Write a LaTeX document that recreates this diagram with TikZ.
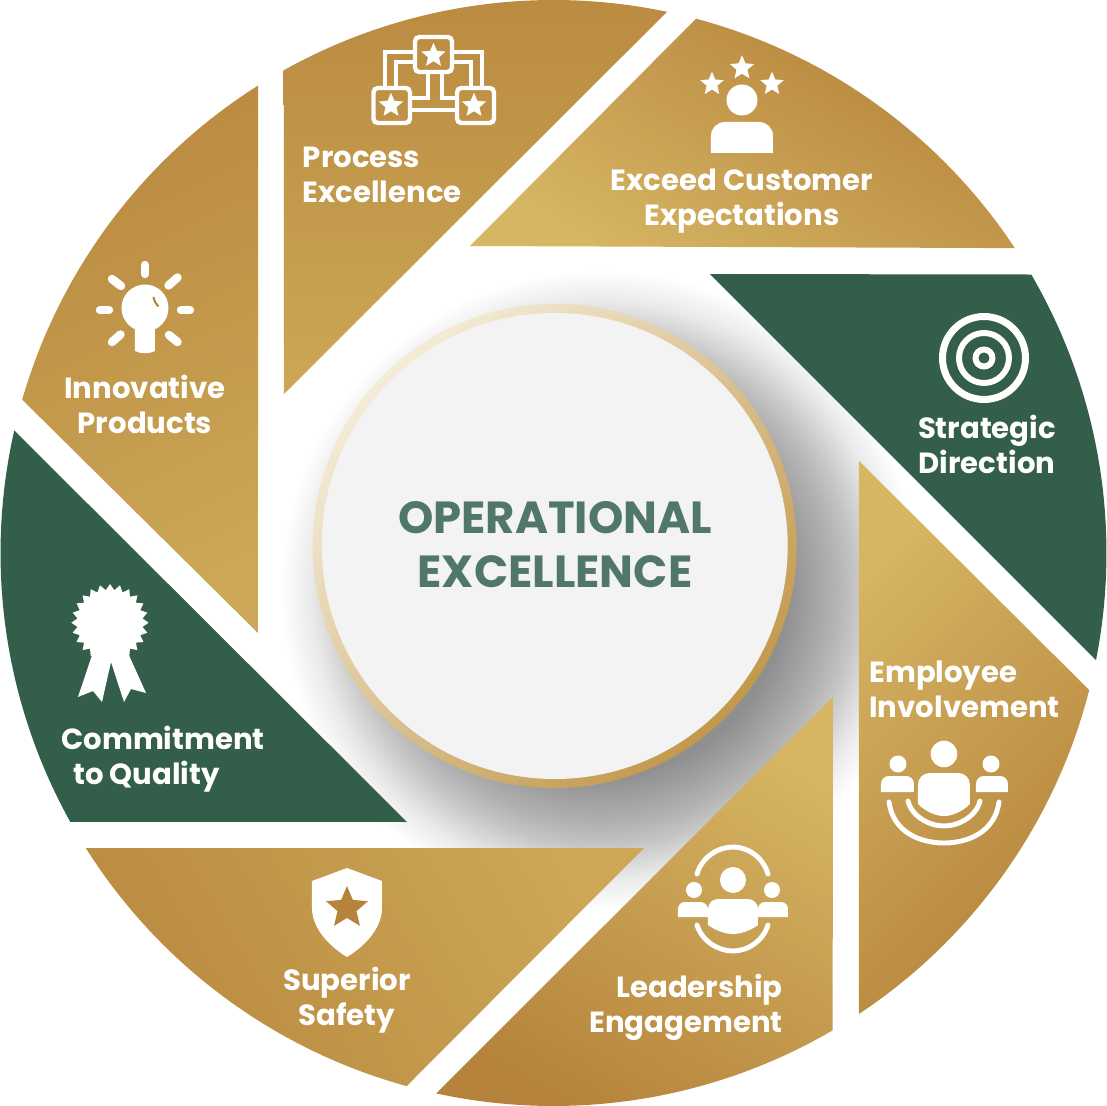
\documentclass[tikz,border=0pt]{standalone}
\usepackage{fontspec}
\setmainfont{Poppins}
\usetikzlibrary{shapes.geometric}
\definecolor{golddark}{HTML}{B5833B}
\definecolor{goldtop}{HTML}{BA8A40}
\definecolor{goldlight}{HTML}{D6B564}
\definecolor{goldsoft}{HTML}{CBA757}
\definecolor{pinegreen}{HTML}{325E4A}
\definecolor{titlegreen}{HTML}{51776A}
\definecolor{ringpale}{HTML}{F4ECD8}
\definecolor{ringmid}{HTML}{D2B26C}
\definecolor{ringgold}{HTML}{C2984C}
\definecolor{discgray}{HTML}{F3F3F3}
\pgfdeclareradialshading{discshadow}{\pgfpointorigin}{gray(0bp)=(0.55); gray(14.45bp)=(0.56); gray(18.36bp)=(0.70); gray(19.9bp)=(0.77); gray(22.66bp)=(0.92); gray(25bp)=(1); gray(50bp)=(1)}
\tikzset{
  goldseg/.style={top color=golddark, bottom color=goldlight, shading angle=#1},
  softseg/.style={top color=goldtop, bottom color=goldsoft, shading angle=#1},
  seglabel/.style={text=white, font=\fontsize{16.6}{19.8}\selectfont\bfseries, inner sep=0pt},
  starmark/.style={star, star points=5, star point ratio=2.2, fill=white, inner sep=0pt, minimum size=#1},
  iconline/.style={draw=white, line width=#1, line cap=round},
  iconline/.default=2.8pt,
  boxline/.style={draw=white, line width=2.5pt, rounded corners=2.5pt},
}
\begin{document}
\begin{tikzpicture}[x=0.02cm, y=0.02cm]
    \useasboundingbox (-553.5,-553) rectangle (553.5,553);

    % Shadow under the disc
    \shade[shading=discshadow] (46.5,-37) circle (320);

    % Segments
    \shade[softseg=0] (119.2:553) arc[start angle=119.2, end angle=78.15, radius=553] -- (-269.5,159) -- cycle;
    \shade[goldseg=-30] (75.06:553) arc[start angle=75.06, end angle=33.46, radius=553] -- (-83.5,307) -- cycle;
    \fill[pinegreen] (30.24:553) arc[start angle=30.24, end angle=-11.16, radius=553] -- (156.5,279) -- cycle;
    \shade[goldseg=-135] (-14.35:553) arc[start angle=-14.35, end angle=-56.47, radius=553] -- (305.5,92) -- cycle;
    \shade[goldseg=150] (-59.68:553) arc[start angle=-59.68, end angle=-102.25, radius=553] -- (279.5,-144) -- cycle;
    \shade[softseg=120] (-105.4:553) arc[start angle=-105.4, end angle=-147.75, radius=553] -- (90.5,-295) -- cycle;
    \fill[pinegreen] (209.1:553) arc[start angle=209.1, end angle=167.2, radius=553] -- (-146.5,-269) -- cycle;
    \shade[softseg=25] (163.9:553) arc[start angle=163.9, end angle=122.3, radius=553] -- (-295.5,-80) -- cycle;

    % Centre disc
    \shade[top color=ringpale, middle color=ringmid, bottom color=ringgold, shading angle=45] (1.2,7) circle (242);
    \fill[discgray] (1.2,7) circle (233);
    \node[text=titlegreen, font=\fontsize{25.6}{30.6}\selectfont\bfseries, align=center, inner sep=0pt] (title) at (1.5,8.5) {OPERATIONAL\\EXCELLENCE};

    % Labels
    \node[seglabel, align=left, anchor=west] (process) at (-251,378) {Process\\Excellence};
    \node[seglabel, align=center] (exceed) at (188.5,352) {Exceed Customer\\Expectations};
    \node[seglabel, align=center] (strategic) at (433.5,108.5) {Strategic\\Direction};
    \node[seglabel, align=left, anchor=west] (employee) at (315.5,-136.5) {Employee\\Involvement};
    \node[seglabel, align=right, anchor=east] (leadership) at (229.5,-454.5) {Leadership\\Engagement};
    \node[seglabel, align=center] (safety) at (-206.5,-447.5) {Superior\\Safety};
    \node[seglabel, align=left, anchor=west] (commitment) at (-492.5,-206) {Commitment\\\hspace*{6.8pt}to Quality};
    \node[seglabel, align=center] (innovative) at (-408.5,148.5) {Innovative\\Products};

    % Icons, in picture pixels
    \begin{scope}[shift={(-553.5,553)}, yscale=-1]
        % process
        \draw[boxline] (415,37) rectangle (452,72);
        \draw[boxline] (373.5,88) rectangle (410,123);
        \draw[boxline] (457,88) rectangle (494,123);
        \draw[white, line width=2.5pt] (385,88) -- (385,52) -- (415,52);
        \draw[white, line width=2.5pt] (396,88) -- (396,62) -- (415,62);
        \draw[white, line width=2.5pt] (482,88) -- (482,52) -- (452,52);
        \draw[white, line width=2.5pt] (471,88) -- (471,62) -- (452,62);
        \draw[white, line width=2.5pt] (428,72) -- (428,98) -- (410,98);
        \draw[white, line width=2.5pt] (442,72) -- (442,98) -- (457,98);
        \draw[white, line width=2.5pt] (410,110) -- (457,110);
        \node[starmark=14.5pt] (processa) at (433.5,55.5) {};
        \node[starmark=14.5pt] (processb) at (391,105.5) {};
        \node[starmark=14.5pt] (processc) at (474,105.5) {};

        % customer
        \fill[white] (742,100) circle (15.5);
        \fill[white] (711,153) -- (711,136) .. controls (711,128) and (717,122) .. (725,122) -- (759,122) .. controls (767,122) and (773,128) .. (773,136) -- (773,153) -- cycle;
        \node[starmark=14.5pt] (customera) at (742,68) {};
        \node[starmark=14pt] (customerb) at (712,84) {};
        \node[starmark=14pt] (customerc) at (772,84) {};

        % target
        \draw[white, line width=4pt] (984,358) circle (41.5);
        \draw[white, line width=3.4pt] (984,358) circle (25);
        \draw[white, line width=3.4pt] (984,358) circle (8.5);

        % people in a bowl
        \fill[white] (944,754) circle (13.3);
        \fill[white] (898,764) circle (8.5);
        \fill[white] (991,764) circle (8.5);
        \fill[white] (918,804) -- (918,785) .. controls (918,778) and (923,773) .. (930,773) -- (958,773) .. controls (965,773) and (970,778) .. (970,785) -- (970,804) .. controls (962,812) and (952,816) .. (944,816) .. controls (936,816) and (926,812) .. (918,804) -- cycle;
        \fill[white] (881,792) -- (881,784) .. controls (881,779.5) and (884.5,776) .. (889,776) -- (906,776) .. controls (910.5,776) and (914,779.5) .. (914,784) -- (914,792) -- cycle;
        \fill[white] (976,792) -- (976,784) .. controls (976,779.5) and (979.5,776) .. (984,776) -- (1000,776) .. controls (1004.5,776) and (1008,779.5) .. (1008,784) -- (1008,792) -- cycle;
        \draw[iconline] (889,802) .. controls (893,832) and (920,843) .. (944,843) .. controls (968,843) and (995,832) .. (999,802);
        \draw[iconline] (908,801) .. controls (912,817) and (930,826) .. (944,826) .. controls (958,826) and (976,817) .. (980,801);

        % people in a ring
        \fill[white] (733,880) circle (13);
        \fill[white] (694,890) circle (8);
        \fill[white] (772,890) circle (8);
        \fill[white] (708,925) -- (708,909) .. controls (708,903.5) and (712.5,899) .. (718,899) -- (748,899) .. controls (753.5,899) and (758,903.5) .. (758,909) -- (758,925) .. controls (750,931) and (740,934) .. (733,934) .. controls (726,934) and (716,931) .. (708,925) -- cycle;
        \fill[white] (678,917) -- (678,909) .. controls (678,905) and (681,902) .. (685,902) -- (700,902) .. controls (704,902) and (708,905) .. (708,909) -- (708,917) -- cycle;
        \fill[white] (758,917) -- (758,909) .. controls (758,905) and (761,902) .. (765,902) -- (781,902) .. controls (785,902) and (788,905) .. (788,909) -- (788,917) -- cycle;
        \draw[iconline] (697,874) .. controls (702,857) and (718,847) .. (733,847) .. controls (748,847) and (763,857) .. (768,874);
        \draw[iconline] (697,925) .. controls (702,941) and (718,951) .. (733,951) .. controls (748,951) and (763,941) .. (768,925);

        % shield
        \fill[white] (347,868) -- (382,881) -- (382,908) .. controls (382,930) and (362,948) .. (347,957) .. controls (332,948) and (312,930) .. (312,908) -- (312,881) -- cycle;
        \node[starmark=25pt, fill=golddark] (shieldstar) at (347,908) {};

        % rosette
        \node[star, star points=24, star point ratio=1.18, fill=white, inner sep=0pt, minimum size=44pt] (rosette) at (110,622.7) {};
        \fill[white] (92.7,653) -- (78,697) -- (93,691) -- (102,702) -- (111,662) -- (124,702) -- (131,689) -- (146,693) -- (128,653) -- cycle;

        % bulb
        \fill[white] (145,308) circle (23.5);
        \fill[white] (135,325) -- (135,351) .. controls (141,354) and (149,354) .. (155,351) -- (155,325) -- cycle;
        \draw[golddark, line width=1.2pt, line cap=round] (153.5,297.5) to[bend left=15] (158,306);
        \draw[iconline=4.8pt] (145,265) -- (145,274);
        \draw[iconline=4.8pt] (100,310) -- (109,310);
        \draw[iconline=4.8pt] (181,310) -- (190,310);
        \draw[iconline=4.8pt] (112,279) -- (121,286);
        \draw[iconline=4.8pt] (168.5,285.5) -- (177.5,277.5);
        \draw[iconline=4.8pt] (112,342) -- (120.5,334.5);
        \draw[iconline=4.8pt] (169,335) -- (177.5,342);
    \end{scope}
\end{tikzpicture}
\end{document}
